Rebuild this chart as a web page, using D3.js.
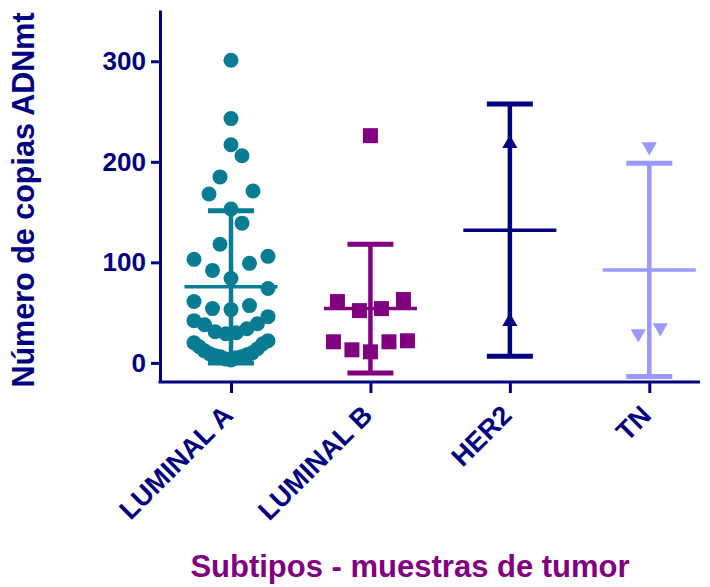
<!DOCTYPE html>
<html>
<head>
<meta charset="utf-8">
<script src="https://cdn.jsdelivr.net/npm/d3@7"></script>
<style>
  html, body { margin: 0; padding: 0; background: #ffffff; }
  svg { display: block; }
  text { font-family: "Liberation Sans", Arial, Helvetica, sans-serif; font-weight: bold; }
</style>
</head>
<body>
<svg id="chart" width="710" height="587"></svg>
<script>
// ---------------- DATA ----------------
const categories = ["LUMINAL A", "LUMINAL B", "HER2", "TN"];
const yTicks = [0, 100, 200, 300];

const luminalA = [301, 243, 217, 206, 185, 171, 168, 153, 139, 118, 106, 103, 99, 92, 84, 74,
                  61, 57, 54, 53, 46, 42, 39, 38, 34, 31, 30, 29, 22, 20, 19, 16, 14, 12, 10,
                  9, 8, 7, 6, 6, 5, 4, 3];
const luminalB = [226, 63, 61, 54, 52, 22, 21, 21, 13, 11];
const her2 = [218, 41];
const tn = [215, 35, 29];

const means = [75.7, 54, 132, 92.5];
const sds   = [75.7, 64, 125.5, 106];

const colors = ["#087C92", "#800080", "#000080", "#9999FF"];
const shapes = ["circle", "square", "triangleUp", "triangleDown"];
const seriesValues = [luminalA, luminalB, her2, tn];

const yTitle = "Número de copias ADNmt";
const xTitle = "Subtipos - muestras de tumor";

// ---------------- LAYOUT ----------------
const svg = d3.select("#chart");
const axisColor = "#000080";
const fontFam = "'Liberation Sans', Arial, Helvetica, sans-serif";
const plot = { left: 160, right: 700, top: 10, bottom: 382 };

const y = d3.scaleLinear().domain([-19, 351]).range([plot.bottom, plot.top]);
const x = d3.scalePoint().domain(categories).range([231, 649.3]);

// ---------------- AXES ----------------
const yAxis = d3.axisLeft(y).tickValues(yTicks).tickSizeInner(9).tickSizeOuter(0).tickPadding(5);
const gy = svg.append("g").attr("transform", `translate(${plot.left},0)`).call(yAxis);
gy.select(".domain").attr("stroke", axisColor).attr("stroke-width", 3);
gy.selectAll(".tick line").attr("stroke", axisColor).attr("stroke-width", 3);
gy.selectAll(".tick text").attr("fill", axisColor).attr("font-size", 26)
  .style("font-family", fontFam).style("font-weight", "bold");

// x axis line
svg.append("line")
  .attr("x1", plot.left - 1.5).attr("x2", plot.right)
  .attr("y1", plot.bottom).attr("y2", plot.bottom)
  .attr("stroke", axisColor).attr("stroke-width", 3);

const xAxis = d3.axisBottom(x).tickSizeInner(11).tickSizeOuter(0);
const gx = svg.append("g").attr("transform", `translate(0,${plot.bottom})`).call(xAxis);
gx.select(".domain").remove();
gx.selectAll(".tick line").attr("stroke", axisColor).attr("stroke-width", 3);
gx.selectAll(".tick text")
  .attr("fill", axisColor).attr("font-size", 27)
  .style("font-family", fontFam).style("font-weight", "bold")
  .attr("text-anchor", "end")
  .attr("x", 0).attr("y", 0).attr("dy", 0)
  .attr("transform", "translate(3,35) rotate(-45)");

// ---------------- SCATTER LAYOUT (row-binned, centred spread) ----------------
function spread(values, binPx, maxSpacing, halfWidth) {
  const pts = values.map(v => ({ v, py: y(v), dx: 0 }));
  const sorted = pts.slice().sort((a, b) => a.v - b.v);
  const bins = [];
  for (const p of sorted) {
    const cur = bins[bins.length - 1];
    if (cur && cur[0].py - p.py < binPx) cur.push(p); else bins.push([p]);
  }
  for (const bin of bins) {
    const n = bin.length;
    if (n === 1) continue;
    const sp = Math.min(maxSpacing, (2 * halfWidth) / (n - 1));
    const slots = d3.range(n).map(k => (k - (n - 1) / 2) * sp)
      .sort((a, b) => (Math.abs(a) - Math.abs(b)) || (a - b));
    bin.forEach((p, i) => { p.dx = slots[i]; });
  }
  return pts;
}

const symbolFor = {
  circle: d3.symbol().type(d3.symbolCircle).size(Math.PI * 7.5 * 7.5),
  square: d3.symbol().type(d3.symbolSquare).size(15 * 15),
  triangleUp: d3.symbol().type(d3.symbolTriangle).size(100),
  triangleDown: d3.symbol().type(d3.symbolTriangle).size(100)
};

categories.forEach((cat, ci) => {
  const shape = shapes[ci];
  const pts = spread(seriesValues[ci], 23, 22, 37);
  const cx = x(cat);
  const g = svg.append("g");
  g.selectAll("path").data(pts).enter().append("path")
    .attr("d", symbolFor[shape]())
    .attr("fill", colors[ci])
    .attr("transform", d => `translate(${cx + d.dx},${d.py})${shape === "triangleDown" ? " rotate(180)" : ""}`);

  // error bars (mean ± SD)
  const m = means[ci], s = sds[ci];
  const eb = svg.append("g").attr("stroke", colors[ci]);
  eb.append("line").attr("x1", cx).attr("x2", cx).attr("y1", y(m + s)).attr("y2", y(m - s)).attr("stroke-width", 4.5);
  eb.append("line").attr("x1", cx - 23).attr("x2", cx + 23).attr("y1", y(m + s)).attr("y2", y(m + s)).attr("stroke-width", 5);
  eb.append("line").attr("x1", cx - 23).attr("x2", cx + 23).attr("y1", y(m - s)).attr("y2", y(m - s)).attr("stroke-width", 5);
  eb.append("line").attr("x1", cx - 46.5).attr("x2", cx + 46.5).attr("y1", y(m)).attr("y2", y(m)).attr("stroke-width", 3.5);
});

// ---------------- TITLES ----------------
svg.append("text")
  .attr("transform", `translate(34,200) rotate(-90)`)
  .attr("text-anchor", "middle")
  .attr("font-size", 30.5)
  .attr("fill", axisColor)
  .text(yTitle);

svg.append("text")
  .attr("x", 410).attr("y", 577)
  .attr("text-anchor", "middle")
  .attr("font-size", 31)
  .attr("fill", "#800080")
  .text(xTitle);
</script>
</body>
</html>
